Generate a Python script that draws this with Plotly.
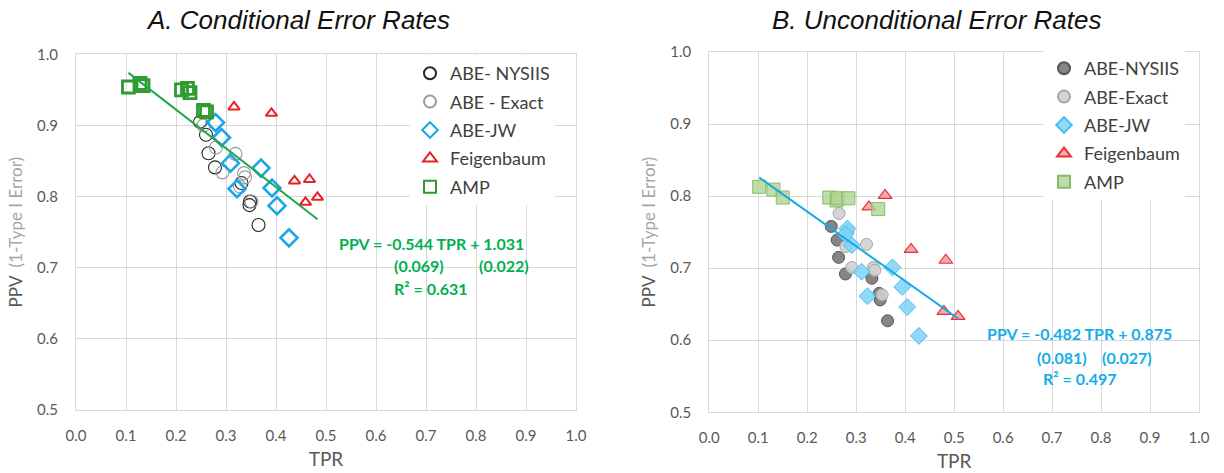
import plotly.graph_objects as go

# ---- Panel A: conditional error rates (TPR, PPV) ----
nysiis_tpr_a = [0.248, 0.260, 0.265, 0.278, 0.331, 0.348, 0.347, 0.365]
nysiis_ppv_a = [0.905, 0.887, 0.861, 0.841, 0.819, 0.793, 0.788, 0.760]
exact_tpr_a = [0.255, 0.280, 0.319, 0.293, 0.336, 0.338, 0.328, 0.351]
exact_ppv_a = [0.900, 0.869, 0.860, 0.834, 0.833, 0.827, 0.814, 0.793]
jw_tpr_a = [0.279, 0.291, 0.309, 0.370, 0.322, 0.392, 0.402, 0.426]
jw_ppv_a = [0.904, 0.883, 0.847, 0.840, 0.811, 0.812, 0.787, 0.742]
feig_tpr_a = [0.316, 0.391, 0.437, 0.467, 0.459, 0.483]
feig_ppv_a = [0.926, 0.917, 0.822, 0.824, 0.792, 0.799]
amp_tpr_a = [0.105, 0.128, 0.134, 0.211, 0.223, 0.228, 0.255, 0.261]
amp_ppv_a = [0.954, 0.959, 0.956, 0.950, 0.952, 0.946, 0.921, 0.919]
slope_a, intercept_a = -0.544, 1.031
se_slope_a, se_int_a, r2_a = "0.069", "0.022", "0.631"

# ---- Panel B: unconditional error rates ----
nysiis_tpr_b = [0.249, 0.261, 0.264, 0.278, 0.332, 0.347, 0.349, 0.364]
nysiis_ppv_b = [0.758, 0.739, 0.715, 0.692, 0.686, 0.665, 0.656, 0.627]
exact_tpr_b = [0.265, 0.283, 0.279, 0.321, 0.291, 0.335, 0.338, 0.353]
exact_ppv_b = [0.776, 0.752, 0.730, 0.733, 0.701, 0.701, 0.697, 0.663]
jw_tpr_b = [0.282, 0.278, 0.291, 0.311, 0.374, 0.394, 0.323, 0.404, 0.428]
jw_ppv_b = [0.755, 0.747, 0.732, 0.695, 0.701, 0.674, 0.661, 0.646, 0.606]
feig_tpr_b = [0.326, 0.359, 0.412, 0.483, 0.479, 0.508]
feig_ppv_b = [0.785, 0.801, 0.726, 0.711, 0.640, 0.633]
amp_tpr_b = [0.102, 0.131, 0.150, 0.245, 0.260, 0.262, 0.284, 0.345]
amp_ppv_b = [0.813, 0.809, 0.798, 0.798, 0.794, 0.797, 0.797, 0.782]
slope_b, intercept_b = -0.482, 0.875
se_slope_b, se_int_b, r2_b = "0.081", "0.027", "0.497"

x_ticks = [round(i * 0.1, 1) for i in range(11)]
y_ticks = [0.5, 0.6, 0.7, 0.8, 0.9, 1.0]

W, H = 1224, 473
FONT = "Lato, 'Open Sans', sans-serif"
GRID = "#d9d9d9"
TICK_COLOR = "#595959"
GREEN_TXT = "#00b050"
BLUE_TXT = "#12aee8"


def px(x):
    return x / W


def py(y):
    return 1 - y / H


fig = go.Figure()


def add_series(xs, ys, name, marker, xa, ya, legend):
    fig.add_trace(go.Scatter(
        x=xs, y=ys, mode="markers", name=name, marker=marker,
        xaxis=xa, yaxis=ya, legend=legend, legendgroup=f"{legend}-{name}",
        hoverinfo="x+y+name",
    ))


def add_fit(xs_all, slope, intercept, color, xa, ya):
    lo, hi = min(xs_all), max(xs_all)
    fig.add_trace(go.Scatter(
        x=[lo, hi], y=[slope * lo + intercept, slope * hi + intercept],
        mode="lines", line=dict(color=color, width=2),
        xaxis=xa, yaxis=ya, showlegend=False, hoverinfo="skip",
    ))


# Panel A: hollow markers
add_series(nysiis_tpr_a, nysiis_ppv_a, "ABE- NYSIIS",
           dict(symbol="circle-open", size=13, line=dict(color="#262626", width=1.1), color="#262626"),
           "x", "y", "legend")
add_series(exact_tpr_a, exact_ppv_a, "ABE - Exact",
           dict(symbol="circle-open", size=13, line=dict(color="#9a9a9a", width=1.1), color="#9a9a9a"),
           "x", "y", "legend")
add_series(jw_tpr_a, jw_ppv_a, "ABE-JW",
           dict(symbol="diamond-open", size=13, line=dict(color="#19a7e8", width=2.6), color="#19a7e8"),
           "x", "y", "legend")
add_series(feig_tpr_a, feig_ppv_a, "Feigenbaum",
           dict(symbol="triangle-up-open", size=10, line=dict(color="#e8202a", width=2), color="#e8202a"),
           "x", "y", "legend")
add_series(amp_tpr_a, amp_ppv_a, "AMP",
           dict(symbol="square-open", size=12, line=dict(color="#2f9a2f", width=2.8), color="#2f9a2f"),
           "x", "y", "legend")
all_a = nysiis_tpr_a + exact_tpr_a + jw_tpr_a + feig_tpr_a + amp_tpr_a
add_fit(all_a, slope_a, intercept_a, "#1fa84a", "x", "y")

# Panel B: filled, semi-transparent markers
add_series(nysiis_tpr_b, nysiis_ppv_b, "ABE-NYSIIS",
           dict(symbol="circle", size=12, color="rgba(120,120,120,0.9)", line=dict(color="#555555", width=1)),
           "x2", "y2", "legend2")
add_series(exact_tpr_b, exact_ppv_b, "ABE-Exact",
           dict(symbol="circle", size=12, color="rgba(208,208,208,0.9)", line=dict(color="#a6a6a6", width=1)),
           "x2", "y2", "legend2")
add_series(jw_tpr_b, jw_ppv_b, "ABE-JW",
           dict(symbol="diamond", size=13, color="rgba(125,212,247,0.85)", line=dict(color="#4cbcee", width=1)),
           "x2", "y2", "legend2")
add_series(feig_tpr_b, feig_ppv_b, "Feigenbaum",
           dict(symbol="triangle-up", size=12, color="rgba(244,160,160,0.9)", line=dict(color="#e2333b", width=1.2)),
           "x2", "y2", "legend2")
add_series(amp_tpr_b, amp_ppv_b, "AMP",
           dict(symbol="square", size=13, color="rgba(174,212,148,0.8)", line=dict(color="#86bd66", width=1)),
           "x2", "y2", "legend2")
all_b = nysiis_tpr_b + exact_tpr_b + jw_tpr_b + feig_tpr_b + amp_tpr_b
add_fit(all_b, slope_b, intercept_b, "#14a8e4", "x2", "y2")

axis_common = dict(
    showgrid=True, gridcolor=GRID, gridwidth=1,
    showline=True, linecolor=GRID, linewidth=1, mirror=True,
    zeroline=False, ticks="", automargin=False,
    tickfont=dict(family=FONT, size=15, color=TICK_COLOR),
)
x_common = dict(axis_common, range=[0, 1], tickvals=x_ticks,
                ticktext=[f"{v:.1f}" for v in x_ticks], ticklabelstandoff=12,
                title=dict(text="TPR", font=dict(family=FONT, size=19, color=TICK_COLOR), standoff=9))
y_title = ("PPV <span style='color:#a6a6a6'> (1-Type I Error)</span>")
y_common = dict(axis_common, range=[0.5, 1.0], tickvals=y_ticks,
                ticktext=[f"{v:.1f}" for v in y_ticks], ticklabelstandoff=14,
                title=dict(text=y_title, font=dict(family=FONT, size=17, color=TICK_COLOR), standoff=10))

legend_common = dict(
    font=dict(family=FONT, size=18, color="#404040"),
    bgcolor="white", borderwidth=0, traceorder="grouped", tracegroupgap=2,
    xanchor="left", yanchor="top", itemsizing="constant",
)

fig.update_layout(
    width=W, height=H,
    margin=dict(l=0, r=0, t=0, b=0),
    paper_bgcolor="white", plot_bgcolor="white",
    showlegend=True,
    xaxis=dict(x_common, domain=[px(76), px(576)], anchor="y"),
    yaxis=dict(y_common, domain=[py(410), py(54.3)], anchor="x"),
    xaxis2=dict(x_common, domain=[px(709.3), px(1199)], anchor="y2"),
    yaxis2=dict(y_common, domain=[py(412.3), py(52)], anchor="x2"),
    legend=dict(legend_common, x=px(410), y=py(55)),
    legend2=dict(legend_common, x=px(1044), y=py(50)),
)

TITLE_FONT = dict(family="'Liberation Sans', Arial, sans-serif", size=26, color="#111111")
ann = [
    dict(text="<i>A. Conditional Error Rates</i>", x=px(298), y=py(20), font=TITLE_FONT,
         xanchor="center", yanchor="middle"),
    dict(text="<i>B. Unconditional Error Rates</i>", x=px(937), y=py(20), font=TITLE_FONT,
         xanchor="center", yanchor="middle"),
]


def eq_text(slope, intercept):
    return f"<b>PPV = {slope:.3f} TPR + {intercept:.3f}</b>"


def eq_block(slope, intercept, se_s, se_i, r2, color, x0, y0, xs, xi, xr, y1, y2):
    f = dict(family=FONT, size=16, color=color)
    return [
        dict(text=eq_text(slope, intercept), x=px(x0), y=py(y0), font=f, xanchor="left", yanchor="middle"),
        dict(text=f"<b>({se_s})</b>", x=px(xs), y=py(y1), font=f, xanchor="left", yanchor="middle"),
        dict(text=f"<b>({se_i})</b>", x=px(xi), y=py(y1), font=f, xanchor="left", yanchor="middle"),
        dict(text=f"<b>R² = {r2}</b>", x=px(xr), y=py(y2), font=f, xanchor="left", yanchor="middle"),
    ]


ann += eq_block(slope_a, intercept_a, se_slope_a, se_int_a, r2_a, GREEN_TXT,
                337, 243, 392, 477, 392, 265, 288)
ann += eq_block(slope_b, intercept_b, se_slope_b, se_int_b, r2_b, BLUE_TXT,
                985, 333, 1035, 1100, 1041, 357, 378)

for a in ann:
    a.update(xref="paper", yref="paper", showarrow=False)
fig.update_layout(annotations=ann)

fig.write_html("out.html")
